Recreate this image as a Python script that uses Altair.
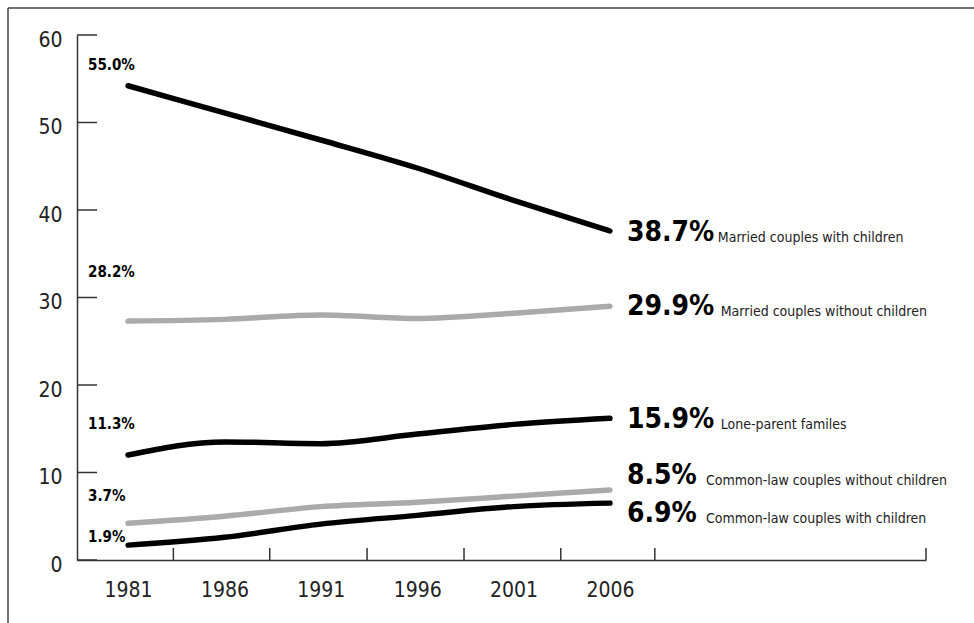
import altair as alt
import pandas as pd

# ---------------- data ----------------
years = [1981, 1986, 1991, 1996, 2001, 2006]
married_with = [54.2, 51.1, 48.0, 44.8, 41.1, 37.6]
married_without = [27.3, 27.5, 28.0, 27.6, 28.2, 29.0]
lone_parent = [12.0, 13.5, 13.3, 14.4, 15.5, 16.2]
cl_without = [4.2, 5.0, 6.1, 6.6, 7.3, 8.0]
cl_with = [1.7, 2.6, 4.1, 5.1, 6.1, 6.5]

series_names = [
    "Married couples with children",
    "Married couples without children",
    "Lone-parent familes",
    "Common-law couples without children",
    "Common-law couples with children",
]
series_values = [married_with, married_without, lone_parent, cl_without, cl_with]
start_labels = ["55.0%", "28.2%", "11.3%", "3.7%", "1.9%"]
end_labels = ["38.7%", "29.9%", "15.9%", "8.5%", "6.9%"]
y_ticks = [0, 10, 20, 30, 40, 50, 60]

# ---------------- layout (not data) ----------------
series_colors = ["#000000", "#aaaaaa", "#000000", "#aaaaaa", "#000000"]
start_label_y = [56.6, 32.9, 15.5, 7.3, 2.6]
end_label_y = [37.6, 29.1, 16.2, 9.8, 5.5]
desc_x = [2011.6, 2011.75, 2011.75, 2010.98, 2010.98]
x_tick_pos = [1983.35, 1988.35, 1993.4, 1998.43, 2003.45, 2008.33, 2022.4]
X_DOMAIN = [1978.35, 2022.4]
W, H = 849, 525
FONT = "DejaVu Sans Condensed"

rows = []
for name, vals in zip(series_names, series_values):
    for yr, v in zip(years, vals):
        rows.append({"series": name, "year": yr, "value": v})
lines_df = pd.DataFrame(rows)

labels_df = pd.DataFrame({
    "series": series_names,
    "start": start_labels,
    "end": end_labels,
    "sy": start_label_y,
    "ey": end_label_y,
    "dx": desc_x,
    "x0": [years[0]] * 5,
    "x1": [years[-1]] * 5,
})

xs = alt.Scale(domain=X_DOMAIN, nice=False, zero=False)
ys = alt.Scale(domain=[0, 60], nice=False)

x_axis = alt.Axis(values=years, format="d", ticks=False, grid=False, title=None,
                  domainColor="#333333", domainWidth=1.5, labelFont=FONT, labelFontSize=21,
                  labelColor="#222222", labelPadding=19)
y_axis = alt.Axis(values=y_ticks, ticks=False, grid=False, title=None,
                  domainColor="#333333", domainWidth=1.5, labelFont=FONT, labelFontSize=21,
                  labelColor="#222222", labelPadding=15, labelOffset=5)


def X(field):
    return alt.X(field, type="quantitative", scale=xs, axis=x_axis)


def Y(field):
    return alt.Y(field, type="quantitative", scale=ys, axis=y_axis)


color = alt.Color("series:N", scale=alt.Scale(domain=series_names, range=series_colors), legend=None)

lines = alt.Chart(lines_df).mark_line(strokeWidth=5.5, strokeCap="round", interpolate="monotone").encode(
    x=X("year"), y=Y("value"), color=color, detail="series:N",
)

ytick_layer = alt.Chart(pd.DataFrame({"v": y_ticks})).mark_rule(color="#333333", strokeWidth=1.5).encode(
    y=Y("v"), x=alt.value(0), x2=alt.value(20)
)
xtick_layer = alt.Chart(pd.DataFrame({"t": x_tick_pos})).mark_rule(color="#333333", strokeWidth=1.5).encode(
    x=X("t"), y=alt.value(H - 12), y2=alt.value(H)
)

start_text = alt.Chart(labels_df).mark_text(
    align="left", baseline="middle", font=FONT, fontSize=15, fontWeight="bold", dx=-40, color="#000000"
).encode(x=X("x0"), y=Y("sy"), text="start:N")

end_text = alt.Chart(labels_df).mark_text(
    align="left", baseline="alphabetic", font=FONT, fontSize=28, fontWeight="bold", dx=17, dy=10, color="#000000"
).encode(x=X("x1"), y=Y("ey"), text="end:N")

desc_text = alt.Chart(labels_df).mark_text(
    align="left", baseline="alphabetic", font=FONT, fontSize=14, dy=11, color="#222222"
).encode(x=X("dx"), y=Y("ey"), text="series:N")

frame_top = alt.Chart(pd.DataFrame({"a": [0]})).mark_rule(color="#444444", strokeWidth=1.5).encode(
    x=alt.value(-69), x2=alt.value(974 - 77), y=alt.value(-27)
)
frame_left = alt.Chart(pd.DataFrame({"a": [0]})).mark_rule(color="#444444", strokeWidth=1.5).encode(
    x=alt.value(-69), y=alt.value(-27), y2=alt.value(623 - 35)
)

chart = alt.layer(
    frame_top, frame_left, lines, ytick_layer, xtick_layer, start_text, end_text, desc_text
).properties(
    width=W, height=H,
    autosize=alt.AutoSizeParams(type="none"),
    padding={"left": 77, "top": 35, "right": 48, "bottom": 63},
    background="#ffffff",
).configure_view(stroke=None)

chart.save("out.html", embed_options={"renderer": "svg", "actions": False})
